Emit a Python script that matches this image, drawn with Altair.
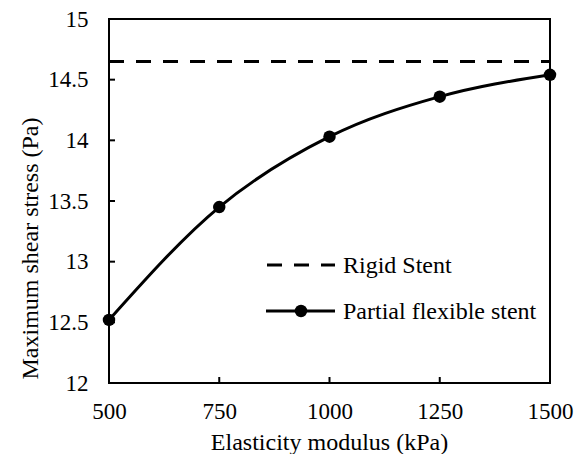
import altair as alt
import pandas as pd

# Data
modulus = [500, 750, 1000, 1250, 1500]
flexible_stress = [12.52, 13.45, 14.03, 14.36, 14.54]
rigid_stress = 14.65
x_ticks = [500, 750, 1000, 1250, 1500]
y_ticks = [12, 12.5, 13, 13.5, 14, 14.5, 15]
legend_labels = ["Rigid Stent", "Partial flexible stent"]

FONT = "Liberation Serif"
FS = 23
TFS = 24
W, H = 441, 364

df = pd.DataFrame({"x": modulus, "y": flexible_stress})
rigid_df = pd.DataFrame({"x": [500, 1500], "y": [rigid_stress, rigid_stress]})
ytick_df = pd.DataFrame({"y": y_ticks[1:-1]})
xtick_df = pd.DataFrame({"x": x_ticks[1:-1]})

xscale = alt.Scale(domain=[500, 1500], nice=False, zero=False)
yscale = alt.Scale(domain=[12, 15], nice=False, zero=False)

axis_style = dict(grid=False, ticks=False, domain=False,
                  labelFontSize=FS, titleFontSize=TFS, labelFont=FONT, titleFont=FONT,
                  titleFontWeight="normal", labelColor="black", titleColor="black",
                  labelFlush=False, labelOverlap=False)

xaxis = alt.Axis(values=x_ticks, format="d", title="Elasticity modulus (kPa)",
                 labelPadding=17, titleBaseline="alphabetic", titleX=220, titleY=66,
                 **axis_style)
yaxis = alt.Axis(values=y_ticks, format="~g", title="Maximum shear stress (Pa)",
                 labelPadding=21, titleBaseline="alphabetic", titleX=-72, titleY=229,
                 titleAngle=270, **axis_style)

X = alt.X("x:Q", scale=xscale, axis=xaxis)
Y = alt.Y("y:Q", scale=yscale, axis=yaxis)

rigid = alt.Chart(rigid_df).mark_line(color="black", strokeWidth=3, strokeDash=[15, 12]).encode(x=X, y=Y)

flex_line = alt.Chart(df).mark_line(color="black", strokeWidth=3, interpolate="monotone").encode(x=X, y=Y)
flex_pts = alt.Chart(df).mark_point(filled=True, color="black", size=155, opacity=1).encode(x=X, y=Y)

ytick_marks = alt.Chart(ytick_df).mark_rule(color="black", strokeWidth=2).encode(
    y=Y, x=alt.value(0), x2=alt.value(6))
xtick_marks = alt.Chart(xtick_df).mark_rule(color="black", strokeWidth=2).encode(
    x=X, y=alt.value(H), y2=alt.value(H - 6))

# Legend (drawn inside the plot)
one = pd.DataFrame({"a": [0]})
leg_dash = alt.Chart(one).mark_rule(
    color="black", strokeWidth=3, strokeDash=[15, 12]).encode(
    x=alt.value(158), x2=alt.value(226), y=alt.value(246))
leg_line = alt.Chart(one).mark_rule(
    color="black", strokeWidth=3).encode(
    x=alt.value(157), x2=alt.value(226), y=alt.value(292))
leg_pt = alt.Chart(one).mark_point(
    filled=True, color="black", size=155, opacity=1).encode(
    x=alt.value(192), y=alt.value(292))
leg_text1 = alt.Chart(pd.DataFrame({"label": [legend_labels[0]]})).mark_text(
    align="left", baseline="alphabetic", font=FONT, fontSize=TFS, color="black").encode(
    x=alt.value(234), y=alt.value(254), text="label:N")
leg_text2 = alt.Chart(pd.DataFrame({"label": [legend_labels[1]]})).mark_text(
    align="left", baseline="alphabetic", font=FONT, fontSize=TFS, color="black").encode(
    x=alt.value(234), y=alt.value(300), text="label:N")

chart = alt.layer(rigid, flex_line, flex_pts, ytick_marks, xtick_marks,
                  leg_dash, leg_line, leg_pt, leg_text1, leg_text2).properties(
    width=W, height=H,
    autosize=alt.AutoSizeParams(type="none"),
    padding={"left": 101, "top": 11, "right": 24, "bottom": 71},
    background="white",
).configure_view(stroke="black", strokeWidth=2).configure_axis(**axis_style)

chart.save("out.html", embed_options={"renderer": "svg", "actions": False})
